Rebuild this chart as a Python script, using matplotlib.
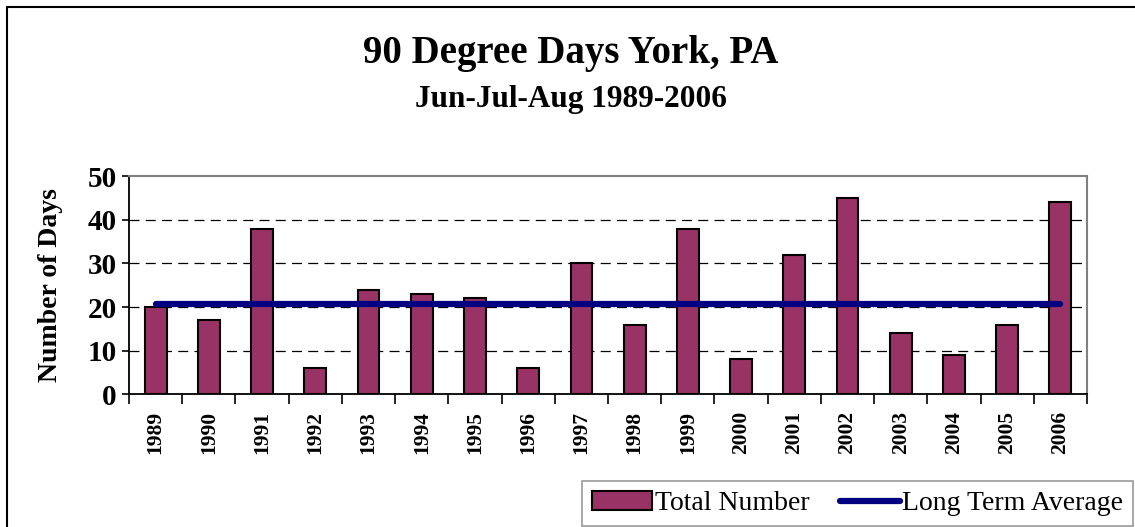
import matplotlib.pyplot as plt
import matplotlib.patches as mpatches
import numpy as np

# ---------------------------------------------------------------------------
# Data
# ---------------------------------------------------------------------------

YEARS = ["1989", "1990", "1991", "1992", "1993", "1994", "1995", "1996", "1997",
         "1998", "1999", "2000", "2001", "2002", "2003", "2004", "2005", "2006"]
TOTAL_DAYS = [20, 17, 38, 6, 24, 23, 22, 6, 30, 16, 38, 8, 32, 45, 14, 9, 16, 44]
LONG_TERM_AVG = [20.8] * len(YEARS)

BAR_COLOR = "#993366"
LINE_COLOR = "#000080"
GRAY = "#808080"

plt.rcParams["font.family"] = ["Liberation Serif", "DejaVu Serif"]

fig = plt.figure(figsize=(11.35, 5.27), dpi=100)
ax = fig.add_axes([0.1137, 0.2518, 0.8440, 0.4137])

x = np.arange(len(YEARS))
bars = ax.bar(x, TOTAL_DAYS, width=0.41, color=BAR_COLOR, edgecolor="black",
              linewidth=1.5, zorder=3, label="Total Number")
line, = ax.plot(x, LONG_TERM_AVG, color=LINE_COLOR, linewidth=4.5,
                solid_capstyle="round", zorder=4, label="Long Term Average")

ax.set_xlim(-0.5, len(YEARS) - 0.5)
ax.set_ylim(0, 50)

# grid
ax.set_yticks([0, 10, 20, 30, 40, 50])
for v in [10, 20, 30, 40]:
    ax.axhline(v, color="black", linewidth=0.9, linestyle=(0, (8, 5)), zorder=1)

ax.set_yticklabels(["0", "10", "20", "30", "40", "50"], fontsize=21, fontweight="bold")
ax.tick_params(axis="y", direction="out", length=5, width=1.2, pad=4)

ax.set_xticks(x)
ax.set_xticklabels(YEARS, rotation=90, fontsize=15.5, fontweight="bold")
ax.set_xticks(np.arange(-0.5, len(YEARS)), minor=True)
ax.tick_params(axis="x", which="major", length=0, pad=12)
ax.tick_params(axis="x", which="minor", direction="out", length=7, width=1.2)

ax.set_ylabel("Number of Days", fontsize=20, fontweight="bold")
ax.yaxis.set_label_coords(-0.069, 0.5)

for side in ("left", "bottom"):
    ax.spines[side].set_color("black")
    ax.spines[side].set_linewidth(1.3)
for side in ("top", "right"):
    ax.spines[side].set_color(GRAY)
    ax.spines[side].set_linewidth(1.5)

# titles
fig.text(0.503, 0.898, "90 Degree Days York, PA", ha="center", va="center",
         fontsize=28, fontweight="bold")
fig.text(0.503, 0.812, "Jun-Jul-Aug 1989-2006", ha="center", va="center",
         fontsize=22.5, fontweight="bold")

# outer border
fig.patches.append(mpatches.Rectangle((7 / 1135, -0.1), 1.2, 1 - 7 / 527 + 0.1,
                                      transform=fig.transFigure, fill=False,
                                      edgecolor="black", linewidth=1.5))

# legend
leg = fig.legend(handles=[bars, line], loc="lower right",
                 bbox_to_anchor=(1133 / 1135, 1 / 527),
                 ncol=2, fontsize=20, frameon=True, fancybox=False,
                 handlelength=2.15, handletextpad=0.1, columnspacing=1.1,
                 borderpad=0.35, borderaxespad=0)
leg.get_frame().set_edgecolor(GRAY)
leg.get_frame().set_linewidth(1.2)

fig.savefig("out.png", dpi=100)
